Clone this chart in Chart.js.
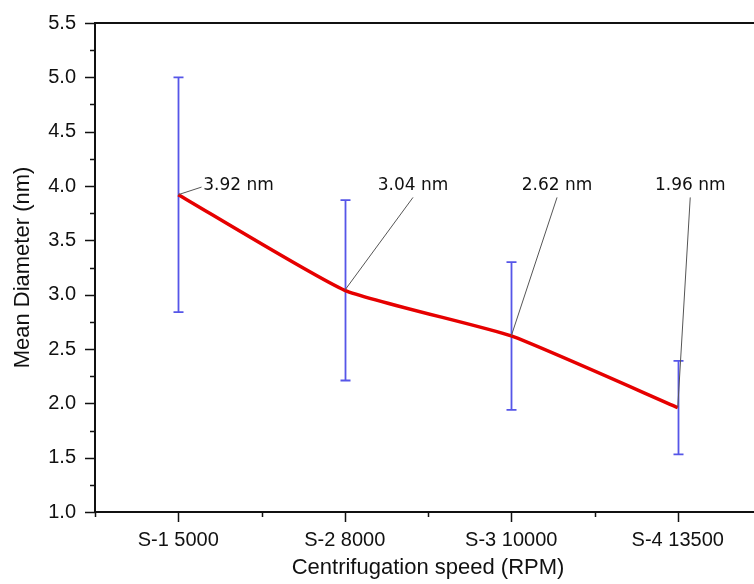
<!DOCTYPE html>
<html>
<head>
<meta charset="utf-8">
<script src="https://cdn.jsdelivr.net/npm/chart.js@4.4.1/dist/chart.umd.min.js"></script>
<style>
  html, body { margin: 0; padding: 0; background: #fff; overflow: hidden; }
  #wrap { width: 770px; height: 584px; }
</style>
</head>
<body>
<div id="wrap"><canvas id="myChart" width="770" height="584"></canvas></div>
<script>
// data
var categories = ['S-1 5000', 'S-2 8000', 'S-3 10000', 'S-4 13500'];
var meanDiameter = [3.92, 3.04, 2.62, 1.96];
var errorSize = [1.08, 0.83, 0.68, 0.43];
var yTicks = [1.0, 1.5, 2.0, 2.5, 3.0, 3.5, 4.0, 4.5, 5.0, 5.5];

// value labels + leader lines (in data units)
var labelText = ['3.92 nm', '3.04 nm', '2.62 nm', '1.96 nm'];
var labelX = [1.15, 2.41, 3.275, 4.075];
var labelY = [4.0, 4.0, 4.0, 4.0];
var labelAlign = ['left', 'center', 'center', 'center'];
var leadX = [1.14, 2.41, 3.275, 4.075];
var leadY = [3.99, 3.895, 3.895, 3.895];

var points = meanDiameter.map(function (v, i) { return { x: i + 1, y: v }; });

var decor = {
    id: 'decor',
    beforeDatasetsDraw: function (chart) {
        var ctx = chart.ctx, xs = chart.scales.x, ys = chart.scales.y;
        ctx.save();
        ctx.strokeStyle = '#5656e8';
        ctx.lineWidth = 1.8;
        meanDiameter.forEach(function (v, i) {
            var px = Math.round(xs.getPixelForValue(i + 1)) + 0.5;
            var top = ys.getPixelForValue(v + errorSize[i]);
            var bot = ys.getPixelForValue(v - errorSize[i]);
            ctx.beginPath();
            ctx.moveTo(px, top); ctx.lineTo(px, bot);
            ctx.moveTo(px - 5, top); ctx.lineTo(px + 5, top);
            ctx.moveTo(px - 5, bot); ctx.lineTo(px + 5, bot);
            ctx.stroke();
        });
        ctx.restore();
    },
    afterDraw: function (chart) {
        var ctx = chart.ctx, xs = chart.scales.x, ys = chart.scales.y, a = chart.chartArea;
        ctx.save();
        // frame top
        ctx.strokeStyle = '#111';
        ctx.lineWidth = 2;
        ctx.beginPath();
        ctx.moveTo(a.left, a.top); ctx.lineTo(a.right, a.top);
        ctx.stroke();

        // y ticks (major 10px, minor 5px)
        ctx.lineWidth = 1.5;
        ctx.beginPath();
        for (var v = ys.min; v <= ys.max + 1e-9; v += 0.25) {
            var py = Math.round(ys.getPixelForValue(v)) + 0.5;
            var major = Math.abs(v * 2 - Math.round(v * 2)) < 1e-6;
            ctx.moveTo(a.left, py); ctx.lineTo(a.left - (major ? 10 : 5), py);
        }
        // x ticks
        for (var t = xs.min; t <= xs.max + 1e-9; t += 0.5) {
            var px = Math.round(xs.getPixelForValue(t)) + 0.5;
            var maj = Number.isInteger(t);
            ctx.moveTo(px, a.bottom); ctx.lineTo(px, a.bottom + (maj ? 10 : 5));
        }
        ctx.stroke();

        // annotations
        ctx.strokeStyle = '#555';
        ctx.lineWidth = 1;
        ctx.fillStyle = '#111';
        ctx.font = '17px "DejaVu Sans"';
        ctx.textBaseline = 'middle';
        labelText.forEach(function (txt, i) {
            var x0 = xs.getPixelForValue(i + 1), y0 = ys.getPixelForValue(meanDiameter[i]);
            var x1 = xs.getPixelForValue(leadX[i]), y1 = ys.getPixelForValue(leadY[i]);
            ctx.beginPath();
            ctx.moveTo(x0, y0); ctx.lineTo(x1, y1);
            ctx.stroke();
            ctx.textAlign = labelAlign[i];
            ctx.fillText(txt, xs.getPixelForValue(labelX[i]), ys.getPixelForValue(labelY[i]));
        });
        ctx.restore();
    }
};

var xx = new Chart(document.getElementById('myChart'), {
    type: 'line',
    data: {
        datasets: [{
            data: points,
            borderColor: '#e60000',
            borderWidth: 3.5,
            pointRadius: 0,
            tension: 0.15,
            fill: false
        }]
    },
    options: {
        responsive: false,
        animation: false,
        layout: { padding: { top: 14, right: 9, left: 0, bottom: 0 } },
        plugins: { legend: { display: false }, tooltip: { enabled: false } },
        scales: {
            x: {
                type: 'linear',
                min: 0.5,
                max: 4.5,
                afterFit: function (s) { s.height = 72; },
                afterBuildTicks: function (s) {
                    var tk = [];
                    for (var t = 0.5; t <= 4.5; t += 0.5) tk.push({ value: t });
                    s.ticks = tk;
                },
                grid: { display: false },
                border: { display: true, color: '#111', width: 2 },
                ticks: {
                    autoSkip: false,
                    maxRotation: 0,
                    padding: 8,
                    color: '#111',
                    font: { family: '"Liberation Sans", Arial', size: 20 },
                    callback: function (v) { return Number.isInteger(v) ? categories[v - 1] : ''; }
                },
                title: {
                    display: true,
                    text: 'Centrifugation speed (RPM)',
                    color: '#111',
                    font: { family: '"Liberation Sans", Arial', size: 22 },
                    padding: { top: 0, bottom: 3 }
                }
            },
            y: {
                min: 1,
                max: 5.5,
                afterFit: function (s) { s.width = 95; },
                afterBuildTicks: function (s) {
                    s.ticks = yTicks.map(function (v) { return { value: v }; });
                },
                grid: { display: false },
                border: { display: true, color: '#111', width: 2 },
                ticks: {
                    padding: 11,
                    color: '#111',
                    font: { family: '"Liberation Sans", Arial', size: 20 },
                    callback: function (v) { return v.toFixed(1); }
                },
                title: {
                    display: true,
                    text: 'Mean Diameter (nm)',
                    color: '#111',
                    font: { family: '"Liberation Sans", Arial', size: 22 },
                    padding: { top: 10, bottom: 0 }
                }
            }
        }
    },
    plugins: [decor]
});
</script>
</body>
</html>
